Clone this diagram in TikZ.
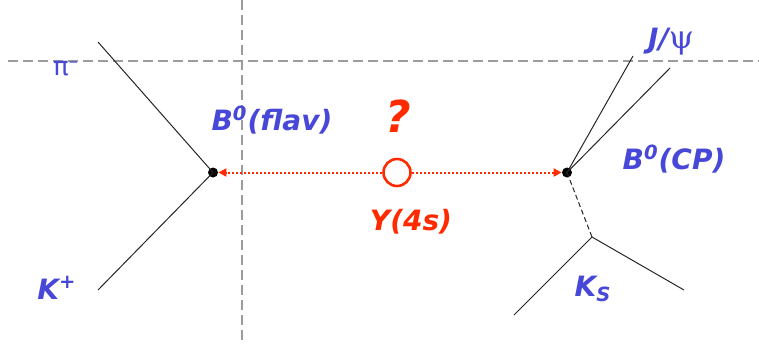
\documentclass[tikz,border=0pt]{standalone}
\usepackage{fontspec}
\setmainfont{DejaVu Sans}[ItalicFont=DejaVu Sans Oblique, BoldFont=DejaVu Sans Bold, BoldItalicFont=DejaVu Sans Bold Oblique]
\newfontfamily\greekfont{DejaVu Serif}
\usetikzlibrary{arrows.meta}
\definecolor{partblue}{HTML}{4848D8}
\definecolor{upsred}{HTML}{FF2A00}
\definecolor{axisgray}{HTML}{9C9C9C}
\tikzset{
  vtx/.style={circle, fill=black, inner sep=0pt, minimum size=5pt},
  track/.style={line width=0.5pt, black!85},
  plabel/.style={text=partblue, font=\fontsize{14}{14}\selectfont\bfseries\itshape, inner sep=0pt},
  boost/.style={upsred, line width=1pt, dash pattern=on 1pt off 1pt, -{Triangle[length=4pt, width=4pt]}}
}

\begin{document}
\begin{tikzpicture}[x=0.5pt, y=-0.5pt]
\useasboundingbox (0,0) rectangle (759,344);

% Reference axes
\draw[axisgray, line width=0.7pt, dash pattern=on 5pt off 2.5pt] (8,61) -- (759,61);
\draw[axisgray, line width=0.7pt, dash pattern=on 5pt off 2.5pt] (242,0) -- (242,344);

% Decay vertices
\node[vtx] (bflav) at (213,172.5) {};
\node[vtx] (bcp) at (567,172.5) {};
\coordinate (ksvtx) at (592,237);
\node[circle, draw=upsred, line width=1.3pt, minimum size=13.5pt, inner sep=0pt] (ups) at (397,172.5) {};

% Track ends
\coordinate (pitrk) at (98,42);
\coordinate (ktrk) at (98,290);
\coordinate (psia) at (633,56);
\coordinate (psib) at (670,68);
\coordinate (ksa) at (514,315);
\coordinate (ksb) at (684,290);

% Tracks
\draw[track] (pitrk) -- (bflav.center) -- (ktrk);
\draw[track] (psia) -- (bcp.center) -- (psib);
\draw[track, dash pattern=on 2.5pt off 1.5pt] (bcp.center) -- (ksvtx);
\draw[track] (ksa) -- (ksvtx) -- (ksb);

% Boost arrows
\draw[boost] (ups.west) -- (bflav.east);
\draw[boost] (ups.east) -- (bcp.west);

% Labels
\node[text=partblue, font=\fontsize{13}{13}\selectfont, inner sep=0pt] (lpi) at (66,69) {π\textsuperscript{–}};
\node[plabel] (lk) at (57,288) {K\textsuperscript{+}};
\node[plabel] (lflav) at (272,120) {B\textsuperscript{0}(flav)};
\node[plabel] (lpsi) at (671,42) {J/{\greekfont\mdseries\upshape\fontsize{16}{16}\selectfont ψ}};
\node[plabel] (lcp) at (674,159) {B\textsuperscript{0}(CP)};
\node[plabel] (lks) at (593,289) {K\textsubscript{S}};
\node[plabel, text=upsred] (lups) at (411,222) {Y(4s)};
\node[text=upsred, font=\fontsize{22}{22}\selectfont\bfseries\itshape, inner sep=0pt] (lq) at (398,116) {?};

\end{tikzpicture}
\end{document}
